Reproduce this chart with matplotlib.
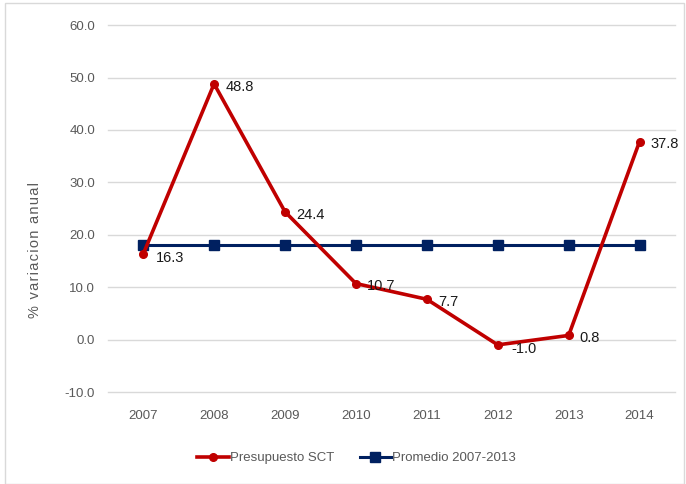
import matplotlib
matplotlib.use("Agg")
import matplotlib.pyplot as plt
from matplotlib.patches import Rectangle

plt.rcParams['font.family'] = ['Liberation Sans', 'DejaVu Sans']

years = ['2007', '2008', '2009', '2010', '2011', '2012', '2013', '2014']
presupuesto = [16.3, 48.8, 24.4, 10.7, 7.7, -1.0, 0.8, 37.8]
promedio = [18.1, 18.1, 18.1, 18.1, 18.1, 18.1, 18.1, 18.1]
yticks = [-10, 0, 10, 20, 30, 40, 50, 60]

red = '#C00000'
navy = '#002060'
gray = '#595959'

fig = plt.figure(figsize=(6.86, 4.84), dpi=100)
fig.patches.append(Rectangle((0.007, 0.0), 0.99, 0.993, transform=fig.transFigure,
                             fill=False, edgecolor='#D9D9D9', linewidth=1.0))
ax = fig.add_axes([0.157, 0.190, 0.827, 0.758])

x = list(range(len(years)))
ax.plot(x, presupuesto, color=red, linewidth=2.6, marker='o', markersize=5.5,
        label='Presupuesto SCT', zorder=4)
ax.plot(x, promedio, color=navy, linewidth=2.2, marker='s', markersize=6.5,
        label='Promedio 2007-2013', zorder=3)

# etiquetas de datos
offsets = {0: (9, -2.5), 5: (10, -3)}
for i, v in enumerate(presupuesto):
    dx, dy = offsets.get(i, (8, -2))
    ax.annotate('{:.1f}'.format(v), (i, v), xytext=(dx, dy), textcoords='offset points',
                fontsize=10.5, color='#1a1a1a', va='center', ha='left', zorder=5)

ax.set_xlim(-0.5, len(years) - 0.5)
ax.set_ylim(-10, 60)
ax.set_yticks(yticks)
ax.set_yticklabels(['{:.1f}'.format(t) for t in yticks])
ax.set_xticks(x)
ax.set_xticklabels(years)
ax.grid(axis='y', color='#D9D9D9', linewidth=1.0)
for gl in ax.get_ygridlines():
    gl.set_clip_on(False)
ax.set_axisbelow(True)
for s in ax.spines.values():
    s.set_visible(False)
ax.tick_params(length=0, labelsize=9.5, labelcolor=gray)
ax.tick_params(axis='y', pad=9)
ax.tick_params(axis='x', pad=13)

hs = '\u200a'
fig.text(0.051, 0.483, hs.join('% variacion anual'), rotation=90, color=gray,
         fontsize=10.5, ha='center', va='center')

fig.legend(loc='center', bbox_to_anchor=(0.52, 0.053), ncol=2, frameon=False,
           fontsize=9.5, labelcolor=gray, handlelength=2.4, handletextpad=0.1,
           columnspacing=1.9)

fig.savefig('out.png', dpi=100)
